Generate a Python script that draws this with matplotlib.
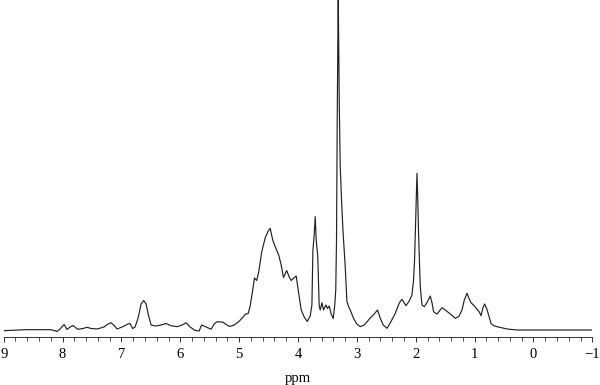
import matplotlib
matplotlib.use("Agg")
import matplotlib.pyplot as plt
from matplotlib.ticker import MultipleLocator

# 1H NMR trace (chemical shift in ppm, intensity a.u.)
ppm = [9.000, 8.638, 8.213, 8.145, 8.094, 8.043, 7.975, 7.924, 7.873, 7.822,
       7.771, 7.737, 7.652, 7.584, 7.516, 7.414, 7.295, 7.227, 7.176, 7.125,
       7.074, 6.989, 6.887, 6.853, 6.810, 6.768, 6.717, 6.666, 6.623, 6.581,
       6.538, 6.496, 6.428, 6.343, 6.241, 6.156, 6.054, 5.969, 5.901, 5.833,
       5.748, 5.680, 5.637, 5.578, 5.476, 5.425, 5.374, 5.272, 5.221, 5.161,
       5.085, 5.008, 4.949, 4.889, 4.847, 4.813, 4.770, 4.740, 4.702, 4.668,
       4.617, 4.558, 4.507, 4.473, 4.430, 4.379, 4.328, 4.286, 4.247, 4.192,
       4.150, 4.116, 4.073, 4.031, 3.992, 3.946, 3.895, 3.844, 3.793, 3.764,
       3.747, 3.725, 3.708, 3.691, 3.665, 3.640, 3.623, 3.594, 3.567, 3.526,
       3.499, 3.470, 3.436, 3.402, 3.376, 3.359, 3.346, 3.334, 3.317, 3.300,
       3.283, 3.257, 3.237, 3.198, 3.169, 3.138, 3.113, 3.057, 3.002, 2.943,
       2.875, 2.773, 2.705, 2.649, 2.603, 2.552, 2.489, 2.433, 2.348, 2.280,
       2.234, 2.166, 2.110, 2.064, 2.037, 2.020, 1.999, 1.979, 1.965, 1.952,
       1.923, 1.894, 1.855, 1.804, 1.753, 1.719, 1.697, 1.639, 1.554, 1.498,
       1.413, 1.328, 1.268, 1.214, 1.175, 1.129, 1.098, 1.061, 1.005, 0.959,
       0.920, 0.891, 0.860, 0.830, 0.792, 0.762, 0.721, 0.682, 0.619, 0.449,
       0.279, -1.000]
intensity = [-0.7, 0.3, 0.3, -0.5, -1.5, 1.0, 5.5, 0.5, 3.0, 4.5,
             2.0, 0.7, 1.5, 2.7, 1.5, 1.0, 3.0, 6.0, 7.2, 4.5,
             1.0, 3.0, 6.0, 6.5, 1.5, 3.0, 12.0, 26.0, 29.5, 26.0,
             14.0, 5.0, 4.0, 4.7, 6.5, 4.2, 3.3, 5.0, 7.2, 3.0,
             -0.5, -1.0, 5.0, 3.5, 0.7, 6.0, 8.3, 7.7, 5.5, 3.5,
             5.0, 8.3, 12.0, 16.0, 16.5, 24.0, 40.0, 52.0, 49.5, 58.0,
             78.0, 92.0, 99.0, 101.7, 90.0, 82.0, 75.0, 65.0, 52.5, 59.5,
             53.0, 49.5, 52.0, 54.0, 38.0, 20.0, 13.0, 8.5, 14.0, 25.0,
             80.0, 95.0, 113.3, 90.0, 74.0, 24.0, 20.0, 27.3, 20.0, 25.0,
             21.5, 24.0, 16.0, 11.5, 25.0, 40.0, 90.0, 210.0, 338.0, 230.0,
             163.3, 125.0, 100.0, 63.3, 28.3, 23.0, 20.0, 11.7, 6.0, 3.3,
             5.0, 12.0, 16.0, 20.0, 11.7, 5.0, 1.7, 7.0, 16.7, 27.0,
             30.7, 24.3, 29.0, 35.0, 50.0, 70.0, 115.0, 156.7, 130.0, 96.7,
             43.3, 25.0, 23.3, 28.0, 34.0, 26.0, 18.3, 16.0, 22.3, 20.0,
             16.0, 11.7, 13.5, 20.0, 30.0, 36.7, 32.0, 27.3, 24.0, 20.7,
             18.0, 14.3, 22.0, 26.0, 21.0, 15.0, 6.7, 4.5, 3.3, 1.0,
             0.0, 0.0]

plt.rcParams['font.family'] = ['Liberation Serif', 'DejaVu Serif']

fig = plt.figure(figsize=(6.0, 3.85), dpi=100)
ax = fig.add_axes([0.0062, 0.1234, 0.981, 0.8766])

ax.plot(ppm, intensity, color='#222222', linewidth=0.85,
        solid_joinstyle='round')

ax.set_xlim(9, -1)
ax.set_ylim(-7.5, 330)
ax.xaxis.set_major_locator(MultipleLocator(1))
ax.xaxis.set_minor_locator(MultipleLocator(0.2))
ax.tick_params(axis='x', which='major', length=3.6, width=0.7, pad=4,
               labelsize=10.5, color='#333333')
ax.tick_params(axis='x', which='minor', length=2.8, width=0.6, color='#333333')
ax.set_yticks([])
for side in ['top', 'left', 'right']:
    ax.spines[side].set_visible(False)
ax.spines['bottom'].set_linewidth(0.7)
ax.spines['bottom'].set_color('#333333')
ax.set_xticklabels([str(int(t)).replace('-', '\u2212') for t in ax.get_xticks()])
ax.set_xlabel('ppm', fontsize=10.5, labelpad=8)

fig.savefig('out.png', dpi=100)
